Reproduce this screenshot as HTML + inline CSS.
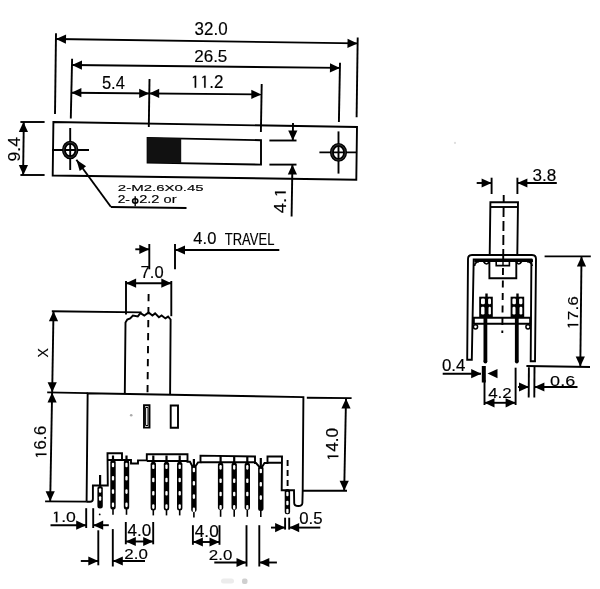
<!DOCTYPE html>
<html><head><meta charset="utf-8"><style>
html,body{margin:0;padding:0;background:#fff;}
svg{display:block;will-change:transform;}
text{font-family:"Liberation Sans",sans-serif;fill:#000;stroke:#000;stroke-width:0.15px;}
</style></head><body>
<svg width="600" height="589" viewBox="0 0 600 589" stroke="#000" stroke-linecap="butt" fill="none">
<rect width="600" height="589" fill="#fff" stroke="none"/>
<line x1="56.0" y1="33.2" x2="55.0" y2="113.9" stroke-width="1.9"/>
<line x1="357.7" y1="37.4" x2="356.6" y2="117.3" stroke-width="1.9"/>
<line x1="56.0" y1="39.0" x2="357.5" y2="43.4" stroke-width="1.9"/>
<path d="M56.0,39.0L66.1,34.5L65.9,43.7Z" fill="#000" stroke="none"/>
<path d="M357.5,43.4L347.4,47.9L347.6,38.7Z" fill="#000" stroke="none"/>
<text x="194.58" y="35.00" font-size="17.43" textLength="33.01" lengthAdjust="spacingAndGlyphs">32.0</text>
<line x1="72.1" y1="58.7" x2="70.8" y2="118.4" stroke-width="1.9"/>
<line x1="340.0" y1="62.7" x2="338.9" y2="122.1" stroke-width="1.9"/>
<line x1="72.0" y1="65.0" x2="339.9" y2="67.9" stroke-width="1.9"/>
<path d="M72.0,65.0L82.0,60.5L81.9,69.7Z" fill="#000" stroke="none"/>
<path d="M339.9,67.9L329.9,72.4L330.0,63.2Z" fill="#000" stroke="none"/>
<text x="194.17" y="62.45" font-size="16.76" textLength="33.21" lengthAdjust="spacingAndGlyphs">26.5</text>
<line x1="149.5" y1="79.0" x2="148.8" y2="127.0" stroke-width="1.9"/>
<line x1="261.7" y1="84.0" x2="260.9" y2="132.0" stroke-width="1.9"/>
<line x1="71.4" y1="92.7" x2="261.3" y2="94.4" stroke-width="1.9"/>
<path d="M71.4,92.7L81.4,88.1L81.4,97.3Z" fill="#000" stroke="none"/>
<path d="M149.2,93.4L139.2,98.0L139.2,88.8Z" fill="#000" stroke="none"/>
<path d="M149.2,93.4L159.2,88.8L159.2,98.0Z" fill="#000" stroke="none"/>
<path d="M261.3,94.4L251.3,99.0L251.3,89.8Z" fill="#000" stroke="none"/>
<text x="101.88" y="89.47" font-size="17.45" textLength="23.00" lengthAdjust="spacingAndGlyphs">5.4</text>
<text x="190.41" y="87.69" font-size="17.44" textLength="33.08" lengthAdjust="spacingAndGlyphs">&#x2007;&#x2007;.2</text>
<polygon class="g1" points="194.68,87.69 194.68,77.16 192.90,78.24 192.90,76.88 194.81,75.70 196.19,75.70 196.19,87.69" fill="#000" stroke="#000" stroke-width="0.15"/><polygon class="g1" points="204.13,87.69 204.13,77.16 202.34,78.24 202.34,76.88 204.25,75.70 205.63,75.70 205.63,87.69" fill="#000" stroke="#000" stroke-width="0.15"/>
<path d="M53.4,122 L357,127 L356.3,179.7 L52.7,175.5 Z" stroke-width="1.9" fill="none"/>
<path d="M147.6,137.9 L261,140.2 L261,164.6 L147.6,162.6 Z" stroke-width="1.9" fill="none"/>
<path d="M147.3,137.6 L181.2,138.4 L181.2,163 L147.3,162.6 Z" fill="#111" stroke="none"/>
<line x1="52.0" y1="150.0" x2="89.0" y2="150.0" stroke-width="1.9"/>
<line x1="70.2" y1="128.0" x2="70.2" y2="170.0" stroke-width="1.9"/>
<ellipse cx="70.2" cy="150" rx="6.3" ry="7.3" fill="none" stroke-width="3.9"/>
<ellipse cx="70.2" cy="150" rx="6.5" ry="7.5" fill="none" stroke="#666" stroke-width="0.5"/>
<line x1="319.4" y1="152.4" x2="356.0" y2="152.4" stroke-width="1.9"/>
<line x1="338.5" y1="131.4" x2="338.5" y2="173.6" stroke-width="1.9"/>
<ellipse cx="338.5" cy="152.4" rx="6.6" ry="7.5" fill="none" stroke-width="3.9"/>
<ellipse cx="338.5" cy="152.4" rx="6.8" ry="7.7" fill="none" stroke="#666" stroke-width="0.5"/>
<line x1="20.4" y1="122.0" x2="44.6" y2="122.0" stroke-width="1.9"/>
<line x1="20.4" y1="175.0" x2="44.6" y2="175.0" stroke-width="1.9"/>
<line x1="23.8" y1="122.0" x2="23.1" y2="175.0" stroke-width="1.9"/>
<path d="M23.4,122.0L28.0,132.0L18.8,132.0Z" fill="#000" stroke="none"/>
<path d="M23.4,175.0L18.8,165.0L28.0,165.0Z" fill="#000" stroke="none"/>
<text transform="translate(19.69,161.50) rotate(-90)" x="0" y="0" font-size="15.62" textLength="24.59" lengthAdjust="spacingAndGlyphs">9.4</text>
<line x1="76.4" y1="159.7" x2="110.8" y2="206.8" stroke-width="1.9"/>
<line x1="110.8" y1="207.0" x2="186.5" y2="208.0" stroke-width="1.9"/>
<path d="M76.4,159.7L86.1,166.2L79.7,170.9Z" fill="#000" stroke="none"/>
<text x="117.83" y="191.05" font-size="9.87" textLength="85.89" lengthAdjust="spacingAndGlyphs">2-M2.6X0.45</text>
<text x="117.65" y="203.41" font-size="10.28" textLength="12.22" lengthAdjust="spacingAndGlyphs">2-</text>
<text x="139.21" y="203.45" font-size="10.18" textLength="37.31" lengthAdjust="spacingAndGlyphs">2.2 or</text>
<ellipse cx="135.2" cy="201" rx="2.6" ry="2.2" fill="none" stroke-width="1.6"/>
<line x1="135.2" y1="196.3" x2="135.2" y2="206.3" stroke-width="1.4"/>
<line x1="269.4" y1="140.5" x2="296.5" y2="140.5" stroke-width="1.9"/>
<line x1="269.4" y1="164.6" x2="296.5" y2="164.6" stroke-width="1.9"/>
<line x1="293.0" y1="123.0" x2="292.8" y2="140.0" stroke-width="1.9"/>
<path d="M292.8,140.5L288.2,130.5L297.4,130.5Z" fill="#000" stroke="none"/>
<line x1="292.4" y1="165.0" x2="291.6" y2="216.4" stroke-width="1.9"/>
<path d="M292.4,164.6L297.0,174.6L287.8,174.6Z" fill="#000" stroke="none"/>
<text transform="translate(285.74,213.23) rotate(-90)" x="0" y="0" font-size="15.64" textLength="25.65" lengthAdjust="spacingAndGlyphs">4.&#x2007;</text>
<g transform="translate(285.74,213.23) rotate(-90)"><polygon class="g1" points="20.01,0.00 20.01,-9.45 18.07,-8.48 18.07,-9.70 20.15,-10.76 21.65,-10.76 21.65,0.00" fill="#000" stroke="#000" stroke-width="0.15"/></g>
<line x1="491.6" y1="177.7" x2="491.6" y2="194.0" stroke-width="1.9"/>
<line x1="517.4" y1="177.7" x2="517.4" y2="194.0" stroke-width="1.9"/>
<line x1="476.7" y1="183.0" x2="491.6" y2="183.0" stroke-width="1.9"/>
<path d="M491.6,183.0L481.6,187.6L481.6,178.4Z" fill="#000" stroke="none"/>
<line x1="517.4" y1="183.0" x2="556.8" y2="183.0" stroke-width="1.9"/>
<path d="M517.4,183.0L527.4,178.4L527.4,187.6Z" fill="#000" stroke="none"/>
<text x="532.62" y="180.55" font-size="15.63" textLength="23.78" lengthAdjust="spacingAndGlyphs">3.8</text>
<path d="M489.7,255 L490.4,202.3 L518,202.3 L517.3,255" stroke-width="1.9" fill="none"/>
<line x1="490.0" y1="207.0" x2="517.7" y2="207.0" stroke-width="1.9"/>
<line x1="503.7" y1="195.0" x2="503.7" y2="202.3" stroke-width="1.9"/>
<line x1="503.6" y1="207.0" x2="503.2" y2="260.0" stroke-width="1.9" stroke-dasharray="10 4"/>
<line x1="503.0" y1="268.0" x2="502.3" y2="333.0" stroke-width="1.9" stroke-dasharray="7 5.5"/>
<path d="M467.2,359.8 L468,259 Q468,255 472,255 L532,255 Q536,255 536,259 L535,361.2 L530.7,361.2 L531.4,259.4 L473.7,259.4 L471.8,359.8 Z" stroke-width="1.9" fill="none"/>
<line x1="474.4" y1="260.6" x2="533.0" y2="260.6" stroke-width="2.6"/>
<path d="M474.6,266 Q475,262 479,261.8 M483.5,261.5 Q486.5,266.5 489.5,261.5 M516,261.5 Q518.8,266.5 521.6,261.5 M527,261.8 Q531.6,262 532.2,266" stroke-width="1.6" fill="none"/>
<path d="M489.4,259.4 L489.4,278.3 L516.3,278.3 L516.3,259.4" stroke-width="1.9" fill="none"/>
<path d="M496.2,261.3 L509.4,261.3 L509.4,265.6 L496.2,265.6 Z" stroke-width="1.6" fill="none"/>
<line x1="503.0" y1="261.3" x2="503.0" y2="265.6" stroke-width="1.4"/>
<rect x="479.2" y="296.7" width="13.600000000000023" height="21" fill="#000" stroke="none"/>
<line x1="486.5" y1="293.5" x2="486.5" y2="297.0" stroke-width="2.4"/>
<rect x="481.0" y="298.6" width="3.9" height="5.699999999999989" rx="1.2" fill="#fff" stroke="none"/>
<rect x="488.1" y="298.6" width="2.9" height="5.699999999999989" rx="1.2" fill="#fff" stroke="none"/>
<rect x="481.1" y="306.8" width="3.4" height="7.699999999999989" rx="1.2" fill="#fff" stroke="none"/>
<rect x="488.5" y="306.8" width="2.4" height="7.699999999999989" rx="1.2" fill="#fff" stroke="none"/>
<rect x="510.6" y="296.7" width="13.600000000000023" height="21" fill="#000" stroke="none"/>
<line x1="517.5" y1="293.5" x2="517.5" y2="297.0" stroke-width="2.4"/>
<rect x="512.4" y="298.6" width="3.5" height="5.699999999999989" rx="1.2" fill="#fff" stroke="none"/>
<rect x="519.1" y="298.6" width="3.3" height="5.699999999999989" rx="1.2" fill="#fff" stroke="none"/>
<rect x="512.5" y="306.8" width="3.0" height="7.699999999999989" rx="1.2" fill="#fff" stroke="none"/>
<rect x="519.5" y="306.8" width="2.8" height="7.699999999999989" rx="1.2" fill="#fff" stroke="none"/>
<path d="M473.8,317.8 L530.2,317.8 L530.2,323.8 L473.8,323.8 Z" stroke-width="2.0" fill="none"/>
<circle cx="475.5" cy="326.8" r="2.1" fill="none" stroke-width="1.5"/>
<circle cx="528" cy="326.8" r="2.1" fill="none" stroke-width="1.5"/>
<line x1="485.4" y1="317.8" x2="485.4" y2="361.5" stroke-width="3.8"/>
<line x1="516.8" y1="317.8" x2="516.8" y2="361.5" stroke-width="3.8"/>
<circle cx="485.4" cy="361.5" r="1.9" fill="#000" stroke="none"/>
<circle cx="516.8" cy="361.5" r="1.9" fill="#000" stroke="none"/>
<line x1="544.6" y1="256.4" x2="590.8" y2="256.4" stroke-width="1.9"/>
<line x1="526.4" y1="366.0" x2="590.0" y2="367.0" stroke-width="1.9"/>
<line x1="581.5" y1="256.4" x2="580.3" y2="367.0" stroke-width="1.9"/>
<path d="M581.5,256.4L586.1,266.4L576.9,266.4Z" fill="#000" stroke="none"/>
<path d="M580.3,366.5L575.7,356.5L584.9,356.5Z" fill="#000" stroke="none"/>
<text transform="translate(578.25,329.79) rotate(-90)" x="0" y="0" font-size="15.39" textLength="33.75" lengthAdjust="spacingAndGlyphs">&#x2007;7.6</text>
<g transform="translate(578.25,329.79) rotate(-90)"><polygon class="g1" points="4.36,0.00 4.36,-9.29 2.54,-8.34 2.54,-9.54 4.49,-10.59 5.90,-10.59 5.90,0.00" fill="#000" stroke="#000" stroke-width="0.15"/></g>
<line x1="442.7" y1="373.7" x2="481.0" y2="373.7" stroke-width="1.9"/>
<path d="M481.2,373.7L471.2,378.3L471.2,369.1Z" fill="#000" stroke="none"/>
<line x1="483.8" y1="366.0" x2="483.8" y2="382.5" stroke-width="4"/>
<path d="M487.5,373.6L497.5,369.0L497.5,378.2Z" fill="#000" stroke="none"/>
<line x1="484.5" y1="380.0" x2="484.5" y2="405.0" stroke-width="1.9"/>
<line x1="515.6" y1="367.7" x2="515.6" y2="405.0" stroke-width="1.9"/>
<text x="441.96" y="370.52" font-size="15.60" textLength="23.45" lengthAdjust="spacingAndGlyphs">0.4</text>
<line x1="484.5" y1="402.8" x2="515.6" y2="402.8" stroke-width="1.9"/>
<path d="M484.5,402.8L494.5,398.2L494.5,407.4Z" fill="#000" stroke="none"/>
<path d="M515.6,402.8L505.6,407.4L505.6,398.2Z" fill="#000" stroke="none"/>
<text x="488.15" y="397.52" font-size="15.52" textLength="23.54" lengthAdjust="spacingAndGlyphs">4.2</text>
<line x1="528.9" y1="367.2" x2="528.7" y2="397.4" stroke-width="1.9"/>
<line x1="534.5" y1="366.5" x2="534.3" y2="397.5" stroke-width="1.9"/>
<path d="M529.0,387.0L519.0,391.6L519.0,382.4Z" fill="#000" stroke="none"/>
<line x1="518.0" y1="387.0" x2="529.0" y2="387.0" stroke-width="1.9"/>
<path d="M534.4,387.0L544.4,382.4L544.4,391.6Z" fill="#000" stroke="none"/>
<line x1="534.4" y1="387.0" x2="577.5" y2="387.0" stroke-width="1.9"/>
<text x="550.14" y="385.57" font-size="15.44" textLength="25.04" lengthAdjust="spacingAndGlyphs">0.6</text>
<line x1="149.3" y1="244.0" x2="149.3" y2="269.3" stroke-width="1.9"/>
<line x1="135.3" y1="249.3" x2="149.3" y2="249.3" stroke-width="1.9"/>
<path d="M149.3,249.3L139.3,253.9L139.3,244.7Z" fill="#000" stroke="none"/>
<line x1="175.0" y1="244.0" x2="175.0" y2="269.3" stroke-width="1.9"/>
<line x1="175.0" y1="250.0" x2="279.3" y2="250.0" stroke-width="1.9"/>
<path d="M175.0,250.0L185.0,245.4L185.0,254.6Z" fill="#000" stroke="none"/>
<text x="193.36" y="244.45" font-size="15.77" textLength="22.96" lengthAdjust="spacingAndGlyphs">4.0</text>
<text x="224.78" y="245.00" font-size="15.76" textLength="49.62" lengthAdjust="spacingAndGlyphs">TRAVEL</text>
<line x1="126.0" y1="281.0" x2="126.0" y2="314.5" stroke-width="1.9"/>
<line x1="171.3" y1="281.0" x2="171.3" y2="316.2" stroke-width="1.9"/>
<line x1="126.0" y1="283.2" x2="171.3" y2="283.2" stroke-width="1.9"/>
<path d="M126.0,283.2L136.1,278.6L136.1,287.8Z" fill="#000" stroke="none"/>
<path d="M171.3,283.2L161.3,287.8L161.3,278.6Z" fill="#000" stroke="none"/>
<text x="140.63" y="278.40" font-size="15.58" textLength="22.94" lengthAdjust="spacingAndGlyphs">7.0</text>
<line x1="51.8" y1="311.3" x2="141.5" y2="312.4" stroke-width="1.9"/>
<line x1="53.5" y1="311.2" x2="52.2" y2="392.0" stroke-width="1.9"/>
<path d="M53.5,311.2L58.1,321.2L48.9,321.2Z" fill="#000" stroke="none"/>
<path d="M52.2,392.3L47.6,382.3L56.8,382.3Z" fill="#000" stroke="none"/>
<text transform="translate(48.19,357.55) rotate(-90)" x="0" y="0" font-size="15.52" textLength="9.36" lengthAdjust="spacingAndGlyphs">X</text>
<line x1="47.2" y1="392.4" x2="87.6" y2="393.1" stroke-width="1.9"/>
<line x1="52.1" y1="392.5" x2="50.2" y2="501.2" stroke-width="1.9"/>
<path d="M52.1,392.5L56.7,402.5L47.5,402.5Z" fill="#000" stroke="none"/>
<path d="M50.2,501.2L45.6,491.2L54.8,491.2Z" fill="#000" stroke="none"/>
<text transform="translate(46.45,459.37) rotate(-90)" x="0" y="0" font-size="15.63" textLength="33.68" lengthAdjust="spacingAndGlyphs">&#x2007;6.6</text>
<g transform="translate(46.45,459.37) rotate(-90)"><polygon class="g1" points="4.36,0.00 4.36,-9.44 2.54,-8.47 2.54,-9.69 4.48,-10.76 5.89,-10.76 5.89,0.00" fill="#000" stroke="#000" stroke-width="0.15"/></g>
<line x1="45.1" y1="501.4" x2="86.6" y2="501.6" stroke-width="1.9"/>
<path d="M124.8,393.6 L125.5,322.5 L127.3,319.6 L130.2,318.4 L132.9,315.5 L137.8,316.4 L140.5,313.1 L144.3,315.6 L148.6,312.4 L152.4,315.6 L155.1,313.4 L158.9,317.2 L161.6,315.4 L165.4,318.4 L168.1,316.6 L170.6,319.5 L170.6,322 L170.1,394" stroke-width="1.9" fill="none"/>
<line x1="148.6" y1="294.0" x2="147.5" y2="393.6" stroke-width="1.9" stroke-dasharray="7.2 5.8"/>
<path d="M86.6,501.6 L87.65,393.2 L303.4,397.1 L302.7,490.8 L302.4,503 Q302.2,506 298.3,506 Q294.2,506 294.2,503 L294,490.2 L281.7,490.2 L282,456.5 L267.5,456.5 L267.5,463 L264.5,463 L262,467 L259.5,467 L256,463 L255,463 L255,456.5 L200.5,455.6 L200.5,462.4 L198,462.4 L195.6,466 L192.2,466 L190,461.7 L187.5,461.7 L187.5,454.3 L146.8,454.3 L146.8,460.4 L138,460.4 L138,463.5 L131,463.5 L131,460 L122,460 L122,453.2 L107.5,453.2 L107.8,485.5 L92.9,485.5 L92.9,499 Q92.9,501.8 90,501.8 L86.4,501.8" stroke-width="1.9" fill="none"/>
<path d="M107.5,460 L122,460 M146.8,461 L187.5,461 M200.5,462.2 L255,462.2 M267.5,462.8 L282,462.8" stroke-width="2.0" fill="none"/>
<path d="M144,405.3 L149.5,405.3 L149.5,427.6 L144,427.6 Z" stroke-width="1.9" fill="none"/>
<path d="M145.6,407.5 L148,407.5 L148,425.5 L145.6,425.5 Z" stroke-width="1" fill="none"/>
<path d="M170.7,405.5 L178,405.5 L178,427.8 L170.7,427.8 Z" stroke-width="1.9" fill="none"/>
<line x1="306.8" y1="397.8" x2="351.6" y2="398.1" stroke-width="1.9"/>
<line x1="302.7" y1="490.8" x2="347.0" y2="490.8" stroke-width="1.9"/>
<line x1="346.0" y1="398.4" x2="344.2" y2="490.8" stroke-width="1.9"/>
<path d="M346.0,398.4L350.6,408.4L341.4,408.4Z" fill="#000" stroke="none"/>
<path d="M344.2,490.8L339.6,480.8L348.8,480.8Z" fill="#000" stroke="none"/>
<text transform="translate(338.33,461.39) rotate(-90)" x="0" y="0" font-size="15.61" textLength="33.51" lengthAdjust="spacingAndGlyphs">&#x2007;4.0</text>
<g transform="translate(338.33,461.39) rotate(-90)"><polygon class="g1" points="4.33,0.00 4.33,-9.43 2.52,-8.46 2.52,-9.68 4.46,-10.74 5.85,-10.74 5.85,0.00" fill="#000" stroke="#000" stroke-width="0.15"/></g>
<line x1="100.1" y1="475.0" x2="100.1" y2="486.0" stroke-width="2.2"/>
<rect x="97.39999999999999" y="486" width="5.4" height="22.600000000000023" rx="2.5" fill="#000" stroke="none"/>
<rect x="98.94999999999999" y="488.2" width="2.3" height="4.6" rx="1.1" fill="#fff" stroke="none"/>
<rect x="98.94999999999999" y="496.2" width="2.3" height="4.6" rx="1.1" fill="#fff" stroke="none"/>
<circle cx="99.7" cy="514.4" r="0.9" fill="#000" stroke="none"/>
<line x1="113.0" y1="455.5" x2="113.0" y2="460.0" stroke-width="2.2"/>
<rect x="110.3" y="460" width="5.4" height="49.5" rx="2.5" fill="#000" stroke="none"/>
<line x1="113.0" y1="508.5" x2="113.0" y2="514.8" stroke-width="1.6"/>
<rect x="111.85" y="462.7" width="2.3" height="4.6" rx="1.1" fill="#fff" stroke="none"/>
<rect x="111.85" y="476.0" width="2.3" height="4.6" rx="1.1" fill="#fff" stroke="none"/>
<rect x="111.85" y="489.3" width="2.3" height="4.6" rx="1.1" fill="#fff" stroke="none"/>
<rect x="111.85" y="502.6" width="2.3" height="4.6" rx="1.1" fill="#fff" stroke="none"/>
<line x1="126.5" y1="455.5" x2="126.5" y2="460.0" stroke-width="2.2"/>
<rect x="123.8" y="460" width="5.4" height="49.5" rx="2.5" fill="#000" stroke="none"/>
<line x1="126.5" y1="508.5" x2="126.5" y2="514.8" stroke-width="1.6"/>
<rect x="125.35" y="462.7" width="2.3" height="4.6" rx="1.1" fill="#fff" stroke="none"/>
<rect x="125.35" y="476.0" width="2.3" height="4.6" rx="1.1" fill="#fff" stroke="none"/>
<rect x="125.35" y="489.3" width="2.3" height="4.6" rx="1.1" fill="#fff" stroke="none"/>
<rect x="125.35" y="502.6" width="2.3" height="4.6" rx="1.1" fill="#fff" stroke="none"/>
<line x1="153.3" y1="455.5" x2="153.3" y2="461.7" stroke-width="2.2"/>
<rect x="150.60000000000002" y="461.7" width="5.4" height="48.900000000000034" rx="2.5" fill="#000" stroke="none"/>
<line x1="153.3" y1="509.6" x2="153.3" y2="515.4" stroke-width="1.6"/>
<rect x="152.15" y="464.4" width="2.3" height="4.6" rx="1.1" fill="#fff" stroke="none"/>
<rect x="152.15" y="477.7" width="2.3" height="4.6" rx="1.1" fill="#fff" stroke="none"/>
<rect x="152.15" y="491.0" width="2.3" height="4.6" rx="1.1" fill="#fff" stroke="none"/>
<rect x="152.15" y="504.3" width="2.3" height="4.6" rx="1.1" fill="#fff" stroke="none"/>
<line x1="166.5" y1="455.5" x2="166.5" y2="461.7" stroke-width="2.2"/>
<rect x="163.8" y="461.7" width="5.4" height="48.900000000000034" rx="2.5" fill="#000" stroke="none"/>
<line x1="166.5" y1="509.6" x2="166.5" y2="515.4" stroke-width="1.6"/>
<rect x="165.35" y="464.4" width="2.3" height="4.6" rx="1.1" fill="#fff" stroke="none"/>
<rect x="165.35" y="477.7" width="2.3" height="4.6" rx="1.1" fill="#fff" stroke="none"/>
<rect x="165.35" y="491.0" width="2.3" height="4.6" rx="1.1" fill="#fff" stroke="none"/>
<rect x="165.35" y="504.3" width="2.3" height="4.6" rx="1.1" fill="#fff" stroke="none"/>
<line x1="179.7" y1="455.5" x2="179.7" y2="461.7" stroke-width="2.2"/>
<rect x="177.0" y="461.7" width="5.4" height="48.900000000000034" rx="2.5" fill="#000" stroke="none"/>
<line x1="179.7" y1="509.6" x2="179.7" y2="515.4" stroke-width="1.6"/>
<rect x="178.54999999999998" y="464.4" width="2.3" height="4.6" rx="1.1" fill="#fff" stroke="none"/>
<rect x="178.54999999999998" y="477.7" width="2.3" height="4.6" rx="1.1" fill="#fff" stroke="none"/>
<rect x="178.54999999999998" y="491.0" width="2.3" height="4.6" rx="1.1" fill="#fff" stroke="none"/>
<rect x="178.54999999999998" y="504.3" width="2.3" height="4.6" rx="1.1" fill="#fff" stroke="none"/>
<line x1="193.9" y1="459.0" x2="193.9" y2="465.0" stroke-width="2.2"/>
<rect x="191.20000000000002" y="465" width="5.4" height="47" rx="2.5" fill="#000" stroke="none"/>
<line x1="193.9" y1="511.0" x2="193.9" y2="517.4" stroke-width="1.6"/>
<rect x="192.75" y="467.7" width="2.3" height="4.6" rx="1.1" fill="#fff" stroke="none"/>
<rect x="192.75" y="481.0" width="2.3" height="4.6" rx="1.1" fill="#fff" stroke="none"/>
<rect x="192.75" y="494.3" width="2.3" height="4.6" rx="1.1" fill="#fff" stroke="none"/>
<rect x="192.75" y="507.6" width="2.3" height="4.6" rx="1.1" fill="#fff" stroke="none"/>
<line x1="220.6" y1="456.0" x2="220.6" y2="462.4" stroke-width="2.2"/>
<rect x="217.9" y="462.4" width="5.4" height="47.60000000000002" rx="2.5" fill="#000" stroke="none"/>
<line x1="220.6" y1="509.0" x2="220.6" y2="516.8" stroke-width="1.6"/>
<rect x="219.45" y="465.09999999999997" width="2.3" height="4.6" rx="1.1" fill="#fff" stroke="none"/>
<rect x="219.45" y="478.4" width="2.3" height="4.6" rx="1.1" fill="#fff" stroke="none"/>
<rect x="219.45" y="491.7" width="2.3" height="4.6" rx="1.1" fill="#fff" stroke="none"/>
<rect x="219.45" y="505.0" width="2.3" height="4.6" rx="1.1" fill="#fff" stroke="none"/>
<line x1="234.2" y1="456.0" x2="234.2" y2="462.4" stroke-width="2.2"/>
<rect x="231.5" y="462.4" width="5.4" height="47.60000000000002" rx="2.5" fill="#000" stroke="none"/>
<line x1="234.2" y1="509.0" x2="234.2" y2="516.8" stroke-width="1.6"/>
<rect x="233.04999999999998" y="465.09999999999997" width="2.3" height="4.6" rx="1.1" fill="#fff" stroke="none"/>
<rect x="233.04999999999998" y="478.4" width="2.3" height="4.6" rx="1.1" fill="#fff" stroke="none"/>
<rect x="233.04999999999998" y="491.7" width="2.3" height="4.6" rx="1.1" fill="#fff" stroke="none"/>
<rect x="233.04999999999998" y="505.0" width="2.3" height="4.6" rx="1.1" fill="#fff" stroke="none"/>
<line x1="247.3" y1="456.0" x2="247.3" y2="462.4" stroke-width="2.2"/>
<rect x="244.60000000000002" y="462.4" width="5.4" height="47.60000000000002" rx="2.5" fill="#000" stroke="none"/>
<line x1="247.3" y1="509.0" x2="247.3" y2="516.8" stroke-width="1.6"/>
<rect x="246.15" y="465.09999999999997" width="2.3" height="4.6" rx="1.1" fill="#fff" stroke="none"/>
<rect x="246.15" y="478.4" width="2.3" height="4.6" rx="1.1" fill="#fff" stroke="none"/>
<rect x="246.15" y="491.7" width="2.3" height="4.6" rx="1.1" fill="#fff" stroke="none"/>
<rect x="246.15" y="505.0" width="2.3" height="4.6" rx="1.1" fill="#fff" stroke="none"/>
<line x1="260.8" y1="458.0" x2="260.8" y2="466.0" stroke-width="2.2"/>
<rect x="258.1" y="466" width="5.4" height="45" rx="2.5" fill="#000" stroke="none"/>
<line x1="260.8" y1="510.0" x2="260.8" y2="517.0" stroke-width="1.6"/>
<rect x="259.65000000000003" y="468.7" width="2.3" height="4.6" rx="1.1" fill="#fff" stroke="none"/>
<rect x="259.65000000000003" y="482.0" width="2.3" height="4.6" rx="1.1" fill="#fff" stroke="none"/>
<rect x="259.65000000000003" y="495.3" width="2.3" height="4.6" rx="1.1" fill="#fff" stroke="none"/>
<line x1="287.6" y1="460.0" x2="287.6" y2="489.0" stroke-width="1.9" stroke-dasharray="6 4"/>
<rect x="284.7" y="489" width="5.4" height="25.299999999999955" rx="2.5" fill="#000" stroke="none"/>
<rect x="286.25" y="491.7" width="2.3" height="4.6" rx="1.1" fill="#fff" stroke="none"/>
<rect x="286.25" y="500.7" width="2.3" height="4.6" rx="1.1" fill="#fff" stroke="none"/>
<rect x="286.25" y="508.7" width="2.3" height="4.6" rx="1.1" fill="#fff" stroke="none"/>
<line x1="285.1" y1="517.7" x2="285.1" y2="529.6" stroke-width="1.9"/>
<line x1="289.2" y1="517.7" x2="289.2" y2="529.6" stroke-width="1.9"/>
<line x1="271.0" y1="527.6" x2="285.1" y2="527.6" stroke-width="1.9"/>
<path d="M285.1,527.6L275.1,532.2L275.1,523.0Z" fill="#000" stroke="none"/>
<line x1="289.2" y1="527.6" x2="320.3" y2="527.6" stroke-width="1.9"/>
<path d="M289.2,527.6L299.2,523.0L299.2,532.2Z" fill="#000" stroke="none"/>
<text x="299.15" y="523.50" font-size="15.75" textLength="23.34" lengthAdjust="spacingAndGlyphs">0.5</text>
<line x1="86.2" y1="508.2" x2="86.2" y2="528.0" stroke-width="1.9"/>
<line x1="93.2" y1="508.2" x2="93.2" y2="528.0" stroke-width="1.9"/>
<line x1="50.5" y1="525.2" x2="86.2" y2="525.2" stroke-width="1.9"/>
<path d="M86.2,525.2L76.2,529.8L76.2,520.6Z" fill="#000" stroke="none"/>
<line x1="93.2" y1="525.2" x2="108.8" y2="525.2" stroke-width="1.9"/>
<path d="M93.2,525.2L103.2,520.6L103.2,529.8Z" fill="#000" stroke="none"/>
<text x="51.39" y="522.32" font-size="15.45" textLength="24.53" lengthAdjust="spacingAndGlyphs">&#x2007;.0</text>
<polygon class="g1" points="55.83,522.32 55.83,512.99 53.98,513.95 53.98,512.74 55.96,511.69 57.39,511.69 57.39,522.32" fill="#000" stroke="#000" stroke-width="0.15"/>
<line x1="125.8" y1="522.0" x2="125.8" y2="544.3" stroke-width="1.9"/>
<line x1="153.2" y1="522.0" x2="153.2" y2="544.3" stroke-width="1.9"/>
<line x1="125.8" y1="541.5" x2="153.2" y2="541.5" stroke-width="1.9"/>
<path d="M125.8,541.5L135.8,536.9L135.8,546.1Z" fill="#000" stroke="none"/>
<path d="M153.2,541.5L143.2,546.1L143.2,536.9Z" fill="#000" stroke="none"/>
<text x="127.64" y="536.31" font-size="15.78" textLength="23.74" lengthAdjust="spacingAndGlyphs">4.0</text>
<line x1="98.3" y1="530.3" x2="98.3" y2="565.3" stroke-width="1.9"/>
<line x1="112.8" y1="529.1" x2="112.8" y2="566.5" stroke-width="1.9"/>
<line x1="80.8" y1="561.0" x2="98.3" y2="561.0" stroke-width="1.9"/>
<path d="M98.3,561.0L88.3,565.6L88.3,556.4Z" fill="#000" stroke="none"/>
<line x1="112.8" y1="561.0" x2="145.0" y2="561.0" stroke-width="1.9"/>
<path d="M112.8,561.0L122.8,556.4L122.8,565.6Z" fill="#000" stroke="none"/>
<text x="124.38" y="559.41" font-size="15.43" textLength="23.53" lengthAdjust="spacingAndGlyphs">2.0</text>
<line x1="192.9" y1="525.2" x2="192.9" y2="544.8" stroke-width="1.9"/>
<line x1="219.5" y1="525.2" x2="219.5" y2="544.8" stroke-width="1.9"/>
<line x1="192.9" y1="542.0" x2="219.5" y2="542.0" stroke-width="1.9"/>
<path d="M192.9,542.0L202.9,537.4L202.9,546.6Z" fill="#000" stroke="none"/>
<path d="M219.5,542.0L209.5,546.6L209.5,537.4Z" fill="#000" stroke="none"/>
<text x="194.84" y="536.69" font-size="15.77" textLength="23.86" lengthAdjust="spacingAndGlyphs">4.0</text>
<line x1="246.5" y1="525.2" x2="246.5" y2="566.5" stroke-width="1.9"/>
<line x1="259.3" y1="525.2" x2="259.3" y2="566.5" stroke-width="1.9"/>
<line x1="214.3" y1="562.5" x2="246.5" y2="562.5" stroke-width="1.9"/>
<path d="M246.5,562.5L236.5,567.1L236.5,557.9Z" fill="#000" stroke="none"/>
<line x1="259.3" y1="562.5" x2="276.9" y2="562.5" stroke-width="1.9"/>
<path d="M259.3,562.5L269.3,557.9L269.3,567.1Z" fill="#000" stroke="none"/>
<text x="208.84" y="560.00" font-size="15.40" textLength="23.46" lengthAdjust="spacingAndGlyphs">2.0</text>
<circle cx="131.2" cy="415.3" r="1.3" fill="#aaa" stroke="none"/>
<circle cx="455" cy="142.9" r="1.1" fill="#ddd" stroke="none"/>
<rect x="221" y="578.5" width="13" height="5" rx="2.5" fill="#ececec" stroke="none"/>
<rect x="242" y="578.5" width="5.5" height="5.5" rx="2" fill="#cfcfcf" stroke="none"/>
</svg>
</body></html>
